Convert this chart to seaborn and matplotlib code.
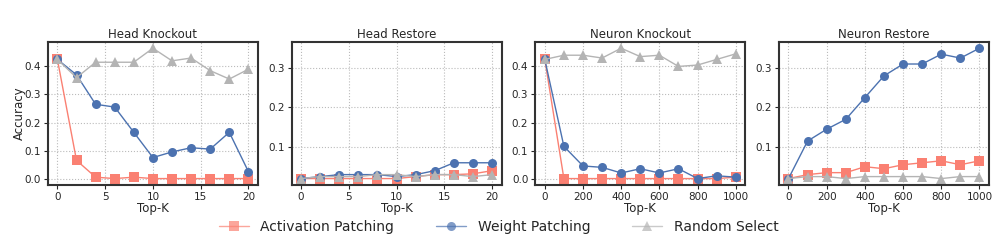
import numpy as np
import pandas as pd
import seaborn as sns
import matplotlib.pyplot as plt

# x values
head_k = [0, 2, 4, 6, 8, 10, 12, 14, 16, 18, 20]
neuron_k = [0, 100, 200, 300, 400, 500, 600, 700, 800, 900, 1000]

# Head Knockout
hk_act = [0.425, 0.065, 0.005, 0.0, 0.005, 0.0, 0.0, 0.0, 0.0, 0.0, 0.0]
hk_wt = [0.425, 0.37, 0.265, 0.255, 0.165, 0.075, 0.095, 0.11, 0.105, 0.165, 0.025]
hk_rnd = [0.425, 0.36, 0.415, 0.415, 0.415, 0.465, 0.42, 0.43, 0.385, 0.355, 0.39]

# Head Restore
hr_act = [0.02, 0.02, 0.02, 0.02, 0.02, 0.02, 0.025, 0.03, 0.03, 0.032, 0.04]
hr_wt = [0.02, 0.025, 0.03, 0.03, 0.03, 0.025, 0.03, 0.04, 0.06, 0.06, 0.06]
hr_rnd = [0.02, 0.025, 0.025, 0.025, 0.03, 0.03, 0.025, 0.03, 0.03, 0.025, 0.03]

# Neuron Knockout
nk_act = [0.425, 0.0, 0.0, 0.0, 0.0, 0.0, 0.0, 0.0, 0.0, 0.0, 0.005]
nk_wt = [0.425, 0.115, 0.045, 0.04, 0.02, 0.035, 0.02, 0.035, 0.0, 0.01, 0.005]
nk_rnd = [0.425, 0.44, 0.44, 0.43, 0.465, 0.435, 0.44, 0.40, 0.405, 0.425, 0.445]

# Neuron Restore
nr_act = [0.02, 0.03, 0.035, 0.035, 0.05, 0.045, 0.055, 0.06, 0.065, 0.055, 0.065]
nr_wt = [0.02, 0.115, 0.145, 0.17, 0.225, 0.28, 0.31, 0.31, 0.335, 0.325, 0.35]
nr_rnd = [0.02, 0.025, 0.025, 0.02, 0.025, 0.025, 0.025, 0.025, 0.02, 0.025, 0.025]

methods = ['Activation Patching', 'Weight Patching', 'Random Select']
titles = ['Head Knockout', 'Head Restore', 'Neuron Knockout', 'Neuron Restore']
panels = [
    (head_k, hk_act, hk_wt, hk_rnd),
    (head_k, hr_act, hr_wt, hr_rnd),
    (neuron_k, nk_act, nk_wt, nk_rnd),
    (neuron_k, nr_act, nr_wt, nr_rnd),
]

palette = {'Activation Patching': '#fa8072',
           'Weight Patching': '#4c72b0',
           'Random Select': '#b4b4b4'}
markers = {'Activation Patching': 's',
           'Weight Patching': 'o',
           'Random Select': '^'}

sns.set_style('white')
plt.rcParams['font.family'] = ['DejaVu Sans']

fig, axes = plt.subplots(1, 4, figsize=(9.97, 2.41), dpi=100)
fig.subplots_adjust(left=0.048, right=0.992, top=0.827, bottom=0.232, wspace=0.16)

for i, (ax, (k, act, wt, rnd)) in enumerate(zip(axes, panels)):
    df = pd.DataFrame({
        'k': list(k) * 3,
        'acc': list(act) + list(wt) + list(rnd),
        'method': [m for m in methods for _ in k],
    })
    sns.lineplot(data=df, x='k', y='acc', hue='method', style='method',
                 markers=markers, dashes=False, palette=palette,
                 markersize=6.5, linewidth=1, markeredgewidth=0,
                 ax=ax, legend=(i == 0))
    ax.set_title(titles[i], fontsize=8.5, pad=3)
    ax.set_xlabel('Top-K', fontsize=8.5, labelpad=0)
    ax.set_ylabel('Accuracy' if i == 0 else '', fontsize=8.5, labelpad=0)
    ax.tick_params(axis='both', labelsize=7.5, length=3, width=0.8,
                   left=True, bottom=True, pad=2)
    ax.grid(True, linestyle=':', color='#bbbbbb', linewidth=0.8)
    for s in ax.spines.values():
        s.set_color('#333333')
        s.set_linewidth(1.5)

# knockout panels share y range, restore panels share y range
for a, b in [(0, 2), (1, 3)]:
    lo = min(axes[a].get_ylim()[0], axes[b].get_ylim()[0])
    hi = max(axes[a].get_ylim()[1], axes[b].get_ylim()[1])
    axes[a].set_ylim(lo, hi)
    axes[b].set_ylim(lo, hi)
axes[0].set_yticks([0.0, 0.1, 0.2, 0.3, 0.4])
axes[2].set_yticks([0.0, 0.1, 0.2, 0.3, 0.4])
axes[1].set_yticks([0.1, 0.2, 0.3])
axes[3].set_yticks([0.1, 0.2, 0.3])
axes[0].set_xticks([0, 5, 10, 15, 20])
axes[1].set_xticks([0, 5, 10, 15, 20])
axes[2].set_xticks([0, 200, 400, 600, 800, 1000])
axes[3].set_xticks([0, 200, 400, 600, 800, 1000])
axes[0].yaxis.set_label_coords(-0.105, 0.5)

handles, labels = axes[0].get_legend_handles_labels()
axes[0].get_legend().remove()
for h in handles:
    h.set_alpha(0.7)
fig.legend(handles, labels, loc='center', bbox_to_anchor=(0.5, 0.058),
           ncol=3, frameon=False, fontsize=10, handlelength=2.2,
           columnspacing=3)

fig.savefig('out.png', dpi=100)
